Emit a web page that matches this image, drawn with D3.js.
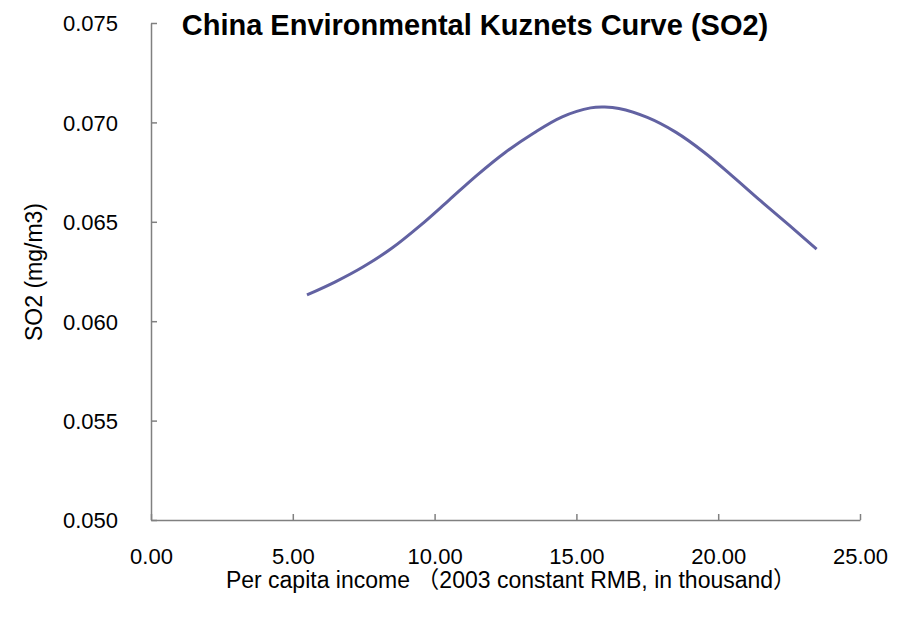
<!DOCTYPE html>
<html>
<head>
<meta charset="utf-8">
<script src="https://cdn.jsdelivr.net/npm/d3@7"></script>
<style>
  html, body { margin: 0; padding: 0; background: #fff; }
  svg { display: block; }
  text { font-family: "Liberation Sans", Arial, "Noto Sans CJK SC", sans-serif; fill: #000; }
</style>
</head>
<body>
<svg id="chart" width="900" height="617"></svg>
<script>
const income = [5.50, 6.5, 7.5, 8.5, 9.5, 10.5, 11.5, 12.5, 13.5, 14.5, 15.5, 16.0, 16.5, 17.5, 18.5, 19.5, 20.5, 21.5, 22.5, 23.47];
const so2 = [0.06132, 0.06198, 0.06275, 0.06368, 0.06482, 0.06608, 0.06735, 0.06850, 0.06947, 0.07028, 0.07073, 0.07077, 0.07070, 0.07025, 0.06951, 0.06850, 0.06730, 0.06605, 0.06483, 0.06363];
const xTicks = [0, 5, 10, 15, 20, 25];
const yTicks = [0.050, 0.055, 0.060, 0.065, 0.070, 0.075];
const titleText = "China Environmental Kuznets Curve (SO2)";
const xLabel = "Per capita income （2003 constant RMB, in thousand）";
const yLabel = "SO2 (mg/m3)";

const svg = d3.select("#chart");
const x = d3.scaleLinear().domain([0, 25]).range([151, 860]);
const y = d3.scaleLinear().domain([0.050, 0.075]).range([520, 23]);
const axisColor = "#808080";

// X axis
const gx = svg.append("g").attr("transform", `translate(0,${y(0.050)})`)
  .call(d3.axisBottom(x).tickValues(xTicks).tickSizeInner(-6).tickSizeOuter(0).tickPadding(0).tickFormat(d3.format(".2f")));
gx.select(".domain").attr("stroke", axisColor).attr("stroke-width", 1.5);
gx.selectAll(".tick line").attr("stroke", axisColor).attr("stroke-width", 1.5);
gx.selectAll(".tick text").attr("font-size", 22).attr("dy", null).attr("y", 44)
  .style("font-family", '"Liberation Sans", Arial, sans-serif');

// Y axis
const gy = svg.append("g").attr("transform", `translate(${x(0)},0)`)
  .call(d3.axisLeft(y).tickValues(yTicks).tickSizeInner(-6).tickSizeOuter(0).tickPadding(0).tickFormat(d3.format(".3f")));
gy.select(".domain").attr("stroke", axisColor).attr("stroke-width", 1.5);
gy.selectAll(".tick line").attr("stroke", axisColor).attr("stroke-width", 1.5);
gy.selectAll(".tick text").attr("font-size", 22).attr("x", -33).attr("dy", "0.36em")
  .style("font-family", '"Liberation Sans", Arial, sans-serif');

// Curve
const line = d3.line().x((d, i) => x(income[i])).y((d, i) => y(so2[i])).curve(d3.curveCatmullRom.alpha(0.5));
svg.append("path").datum(so2).attr("d", line)
  .attr("fill", "none").attr("stroke", "#6262a2").attr("stroke-width", 3).attr("stroke-linecap", "butt");

// Title
svg.append("text").attr("x", 475).attr("y", 35).attr("text-anchor", "middle")
  .attr("font-size", 29).attr("font-weight", "bold").text(titleText);

// X label
svg.append("text").attr("x", 511).attr("y", 588).attr("text-anchor", "middle")
  .attr("font-size", 23).text(xLabel);

// Y label
svg.append("text").attr("transform", `translate(42,272) rotate(-90)`).attr("text-anchor", "middle")
  .attr("font-size", 23).text(yLabel);
</script>
</body>
</html>
